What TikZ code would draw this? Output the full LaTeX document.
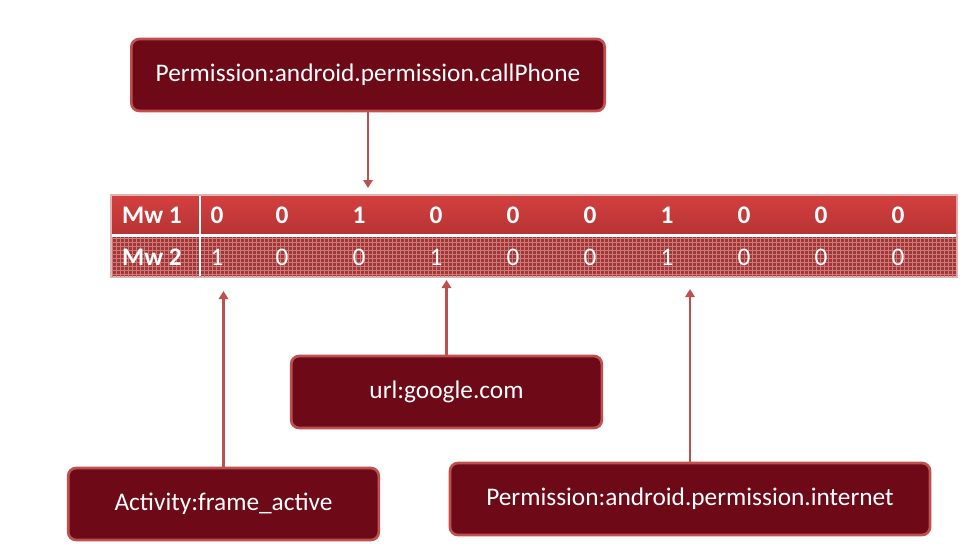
\documentclass[tikz,border=0pt]{standalone}
\usepackage{fontspec}
\setmainfont{Carlito}
\usetikzlibrary{patterns,arrows.meta}

\definecolor{boxfill}{HTML}{6E0A18}
\definecolor{boxedge}{HTML}{C0504D}
\definecolor{rowtop}{HTML}{D33F3F}
\definecolor{rowbottom}{HTML}{B83434}
\definecolor{rowtwo}{HTML}{A23636}
\definecolor{rowgrid}{HTML}{CC7A7A}
\definecolor{tableedge}{HTML}{E0B2B2}

\begin{document}
\begin{tikzpicture}[x=0.75pt,y=-0.75pt,
    tag/.style={draw=boxedge,fill=boxfill,line width=2pt,rounded corners=6pt,text=white,font=\boxfontsize,minimum height=\boxheight pt,inner sep=0pt},
    link/.style={draw=boxedge,line width=1.7pt,-{Triangle[length=6pt,width=7pt]}},
    bit/.style={text=white,font=\tablefontsize,inner sep=0pt}]
    \pgfmathsetmacro{\boxheight}{72*0.75}
    \providecommand{\boxfontsize}{\fontsize{19}{23}\selectfont}
    \providecommand{\tablefontsize}{\fontsize{19}{23}\selectfont}
    \useasboundingbox (0,0) rectangle (974,550);
    % feature table
    \draw[tableedge,line width=1.5pt] (111,195) rectangle (957,277);
    \shade[top color=rowtop,bottom color=rowbottom] (112,196) rectangle (956,233);
    \fill[rowtwo] (112,237) rectangle (956,276);
    \fill[pattern=grid,pattern color=rowgrid] (112,237) rectangle (956,276);
    \draw[white,line width=2.2pt] (200,196) -- (200,276);
    \node[bit,font=\tablefontsize\bfseries] (mwone) at (152,215) {Mw 1};
    \node[bit,font=\tablefontsize\bfseries] (mwtwo) at (152,257) {Mw 2};
    \foreach \x/\a/\b [count=\i] in {217/0/1,282/0/0,359/1/0,436/0/1,513/0/0,590/0/0,667/1/1,744/0/0,821/0/0,898/0/0} {
        \node[bit,font=\tablefontsize\bfseries] (mwone\i) at (\x,215) {\a};
        \node[bit] (mwtwo\i) at (\x,257) {\b};
    }
    % feature boxes
    \node[tag,minimum width=355pt] (callphone) at (368,75) {Permission:android.permission.callPhone};
    \node[tag,minimum width=233pt] (url) at (446.5,392) {url:google.com};
    \node[tag,minimum width=233pt] (activity) at (223.5,504) {Activity:frame\_active};
    \node[tag,minimum width=360pt] (internet) at (690,499) {Permission:android.permission.internet};
    \coordinate (calltip) at (368,188);
    \coordinate (urltip) at (446.5,280);
    \coordinate (activitytip) at (223.5,291);
    \coordinate (internettip) at (690,289);
    \draw[link] (callphone) -- (calltip);
    \draw[link] (url) -- (urltip);
    \draw[link] (activity) -- (activitytip);
    \draw[link] (internet) -- (internettip);
\end{tikzpicture}
\end{document}
